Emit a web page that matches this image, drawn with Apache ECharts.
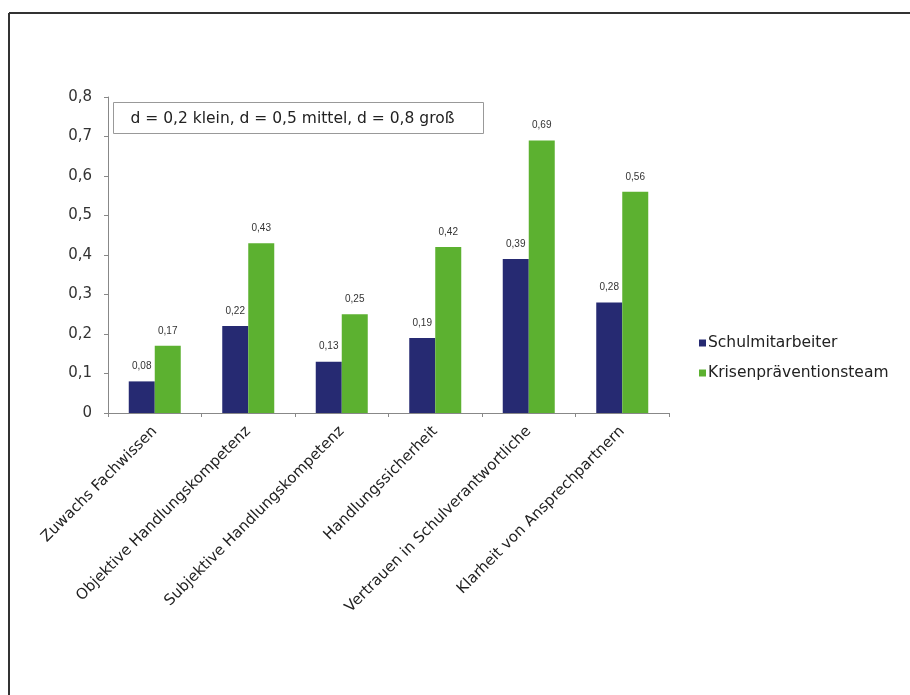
<!DOCTYPE html>
<html>
<head>
<meta charset="utf-8">
<script src="https://cdn.jsdelivr.net/npm/echarts@6/dist/echarts.min.js"></script>
<style>
  html, body { margin: 0; padding: 0; background: #fff; }
  #main { width: 910px; height: 695px; }
</style>
</head>
<body>
<div id="main"></div>
<script>
// Effektstärken je Kategorie
var categories = ['Zuwachs Fachwissen', 'Objektive Handlungskompetenz', 'Subjektive Handlungskompetenz',
  'Handlungssicherheit', 'Vertrauen in Schulverantwortliche', 'Klarheit von Ansprechpartnern'];
var schulmitarbeiter = [0.08, 0.22, 0.13, 0.19, 0.39, 0.28];
var krisenteam = [0.17, 0.43, 0.25, 0.42, 0.69, 0.56];
var seriesNames = ['Schulmitarbeiter', 'Krisenpräventionsteam'];
var noteText = 'd = 0,2 klein, d = 0,5 mittel, d = 0,8 groß';

var font = 'DejaVu Sans, Liberation Sans, sans-serif';

function komma(v) {
  return String(v).replace('.', ',');
}

var chart = echarts.init(document.getElementById('main'));
var option = {
  backgroundColor: '#fff',
  animation: false,
  textStyle: { fontFamily: font },
  grid: { left: 108, right: 241, top: 97, bottom: 282 },
  legend: {
    orient: 'vertical',
    left: 694, top: 330,
    itemWidth: 7, itemHeight: 7, itemGap: 14,
    icon: 'rect',
    textStyle: { fontSize: 15.5, color: '#222', padding: [0, 0, 0, -3] },
    data: seriesNames
  },
  xAxis: {
    type: 'category',
    data: categories,
    axisLine: { lineStyle: { color: '#888' } },
    axisTick: { show: true, length: 4, lineStyle: { color: '#888' } },
    axisLabel: { rotate: 45, fontSize: 15, color: '#222', margin: 16, interval: 0 }
  },
  yAxis: {
    type: 'value',
    min: 0, max: 0.8, interval: 0.1,
    axisLine: { show: true, lineStyle: { color: '#888' } },
    axisTick: { show: true, length: 4, lineStyle: { color: '#888' } },
    splitLine: { show: false },
    axisLabel: { fontSize: 15, color: '#333', margin: 16, formatter: function (v) { return komma(Math.round(v * 10) / 10); } }
  },
  series: [
    {
      name: seriesNames[0], type: 'bar', data: schulmitarbeiter,
      barWidth: 26, barGap: '0%',
      itemStyle: { color: '#262a72' },
      label: { show: true, position: 'top', fontSize: 10, color: '#333', distance: 10, fontFamily: 'Liberation Sans, Arial, sans-serif', formatter: function (p) { return komma(p.value.toFixed(2)); } }
    },
    {
      name: seriesNames[1], type: 'bar', data: krisenteam,
      barWidth: 26,
      itemStyle: { color: '#5cb130' },
      label: { show: true, position: 'top', fontSize: 10, color: '#333', distance: 10, fontFamily: 'Liberation Sans, Arial, sans-serif', formatter: function (p) { return komma(p.value.toFixed(2)); } }
    }
  ],
  graphic: [
    { type: 'line', shape: { x1: 9, y1: 13, x2: 910, y2: 13 }, style: { stroke: '#333', lineWidth: 2 } },
    { type: 'line', shape: { x1: 9, y1: 13, x2: 9, y2: 695 }, style: { stroke: '#333', lineWidth: 2 } },
    {
      type: 'group', left: 113, top: 102,
      children: [
        { type: 'rect', shape: { x: 0, y: 0, width: 370, height: 31 }, style: { fill: '#fff', stroke: '#999', lineWidth: 1 } },
        { type: 'text', x: 17, y: 16, style: { text: noteText, fontSize: 15.5, fill: '#222', verticalAlign: 'middle', fontFamily: font } }
      ]
    }
  ]
};
chart.setOption(option);
</script>
</body>
</html>
